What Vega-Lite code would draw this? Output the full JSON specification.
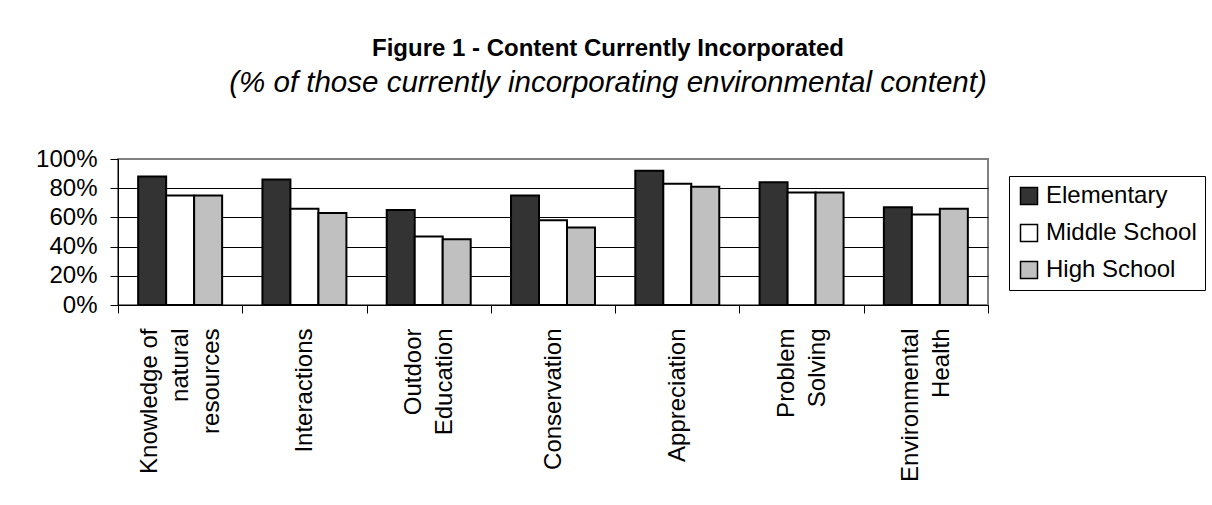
{
  "$schema": "https://vega.github.io/schema/vega-lite/v6.json",
  "width": 870,
  "height": 146,
  "autosize": {"type": "none"},
  "padding": {"left": 118, "top": 159, "right": 224, "bottom": 200},
  "background": "white",
  "title": {
    "text": "Figure 1 - Content Currently Incorporated",
    "subtitle": "(% of those currently incorporating environmental content)",
    "anchor": "middle",
    "dx": 55,
    "offset": 50,
    "font": "Liberation Sans",
    "fontSize": 24,
    "fontWeight": "bold",
    "color": "black",
    "subtitleFont": "Liberation Sans",
    "subtitleFontSize": 29.5,
    "subtitleFontStyle": "italic",
    "subtitleColor": "black",
    "subtitlePadding": 8
  },
  "data": {
    "values": [
      {"category": "Knowledge of natural resources", "level": "Elementary", "value": 0.88},
      {"category": "Knowledge of natural resources", "level": "Middle School", "value": 0.75},
      {"category": "Knowledge of natural resources", "level": "High School", "value": 0.75},
      {"category": "Interactions", "level": "Elementary", "value": 0.86},
      {"category": "Interactions", "level": "Middle School", "value": 0.66},
      {"category": "Interactions", "level": "High School", "value": 0.63},
      {"category": "Outdoor Education", "level": "Elementary", "value": 0.65},
      {"category": "Outdoor Education", "level": "Middle School", "value": 0.47},
      {"category": "Outdoor Education", "level": "High School", "value": 0.45},
      {"category": "Conservation", "level": "Elementary", "value": 0.75},
      {"category": "Conservation", "level": "Middle School", "value": 0.58},
      {"category": "Conservation", "level": "High School", "value": 0.53},
      {"category": "Appreciation", "level": "Elementary", "value": 0.92},
      {"category": "Appreciation", "level": "Middle School", "value": 0.83},
      {"category": "Appreciation", "level": "High School", "value": 0.81},
      {"category": "Problem Solving", "level": "Elementary", "value": 0.84},
      {"category": "Problem Solving", "level": "Middle School", "value": 0.77},
      {"category": "Problem Solving", "level": "High School", "value": 0.77},
      {"category": "Environmental Health", "level": "Elementary", "value": 0.67},
      {"category": "Environmental Health", "level": "Middle School", "value": 0.62},
      {"category": "Environmental Health", "level": "High School", "value": 0.66}
    ]
  },
  "mark": {"type": "bar", "stroke": "black", "strokeWidth": 2},
  "encoding": {
    "x": {
      "field": "category",
      "type": "nominal",
      "sort": null,
      "scale": {"paddingInner": 0, "paddingOuter": 0},
      "axis": {
        "title": null,
        "tickBand": "extent",
        "tickSize": 8,
        "tickColor": "black",
        "domainColor": "black",
        "labelAngle": -90,
        "labelAlign": "right",
        "labelBaseline": "middle",
        "labelPadding": 15,
        "labelFont": "Liberation Sans",
        "labelFontSize": 24,
        "labelColor": "black",
        "labelLineHeight": 31,
        "labelLimit": 0,
        "labelOffset": {
          "condition": [
            {"test": "datum.value == 'Knowledge of natural resources'", "value": -31},
            {"test": "datum.value == 'Outdoor Education' || datum.value == 'Problem Solving' || datum.value == 'Environmental Health'", "value": -15.5}
          ],
          "value": 0
        },
        "labelExpr": "datum.value == 'Knowledge of natural resources' ? ['Knowledge of','natural','resources'] : datum.value == 'Outdoor Education' ? ['Outdoor','Education'] : datum.value == 'Problem Solving' ? ['Problem','Solving'] : datum.value == 'Environmental Health' ? ['Environmental','Health'] : datum.label"
      }
    },
    "xOffset": {
      "field": "level",
      "type": "nominal",
      "sort": ["Elementary", "Middle School", "High School"],
      "scale": {"paddingInner": 0, "paddingOuter": 0.72}
    },
    "y": {
      "field": "value",
      "type": "quantitative",
      "scale": {"domain": [0, 1], "nice": false},
      "axis": {
        "title": null,
        "values": [0, 0.2, 0.4, 0.6, 0.8, 1],
        "format": ".0%",
        "tickSize": 8,
        "tickColor": "black",
        "domainColor": "black",
        "labelPadding": 13,
        "labelFont": "Liberation Sans",
        "labelFontSize": 24,
        "labelColor": "black",
        "grid": true,
        "gridColor": {"condition": {"test": "datum.value >= 1", "value": "#808080"}, "value": "black"},
        "gridWidth": 1
      }
    },
    "fill": {
      "field": "level",
      "type": "nominal",
      "sort": ["Elementary", "Middle School", "High School"],
      "scale": {
        "domain": ["Elementary", "Middle School", "High School"],
        "range": ["#333333", "#ffffff", "#c0c0c0"]
      },
      "legend": {
        "title": null,
        "orient": "none",
        "legendX": 891,
        "legendY": 17,
        "fillColor": "white",
        "strokeColor": "black",
        "padding": 8,
        "symbolType": "square",
        "symbolSize": 289,
        "symbolStrokeColor": "black",
        "symbolStrokeWidth": 1.5,
        "symbolOpacity": 1,
        "labelFont": "Liberation Sans",
        "labelFontSize": 24,
        "labelColor": "black",
        "labelOffset": 5,
        "rowPadding": 13,
        "labelLimit": 0
      }
    }
  },
  "config": {
    "view": {"stroke": "#808080", "strokeWidth": 2},
    "axis": {"domainWidth": 1, "tickWidth": 1}
  }
}
